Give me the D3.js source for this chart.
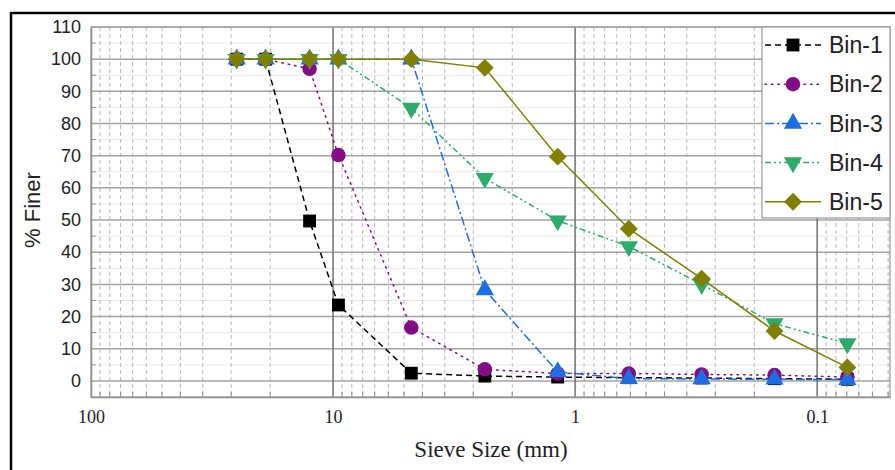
<!DOCTYPE html>
<html>
<head>
<meta charset="utf-8">
<script src="https://cdn.jsdelivr.net/npm/d3@7"></script>
<style>
  html, body { margin: 0; padding: 0; background: #fff; }
  svg { display: block; }
</style>
</head>
<body>
<svg id="chart" width="895" height="470"></svg>
<script>
// Sieve sizes (mm) and percent finer for each bin
const sieveSizes = [25, 19, 12.5, 9.5, 4.75, 2.36, 1.18, 0.6, 0.3, 0.15, 0.075];
const bin1 = [100, 100, 49.7, 23.6, 2.4, 1.5, 1.2, 1.0, 0.9, 0.7, 0.5];
const bin2 = [100, 100, 97.0, 70.2, 16.6, 3.6, 2.3, 2.3, 2.0, 1.8, 1.2];
const bin3 = [100, 100, 100, 100, 100, 28.3, 2.8, 0.7, 0.6, 0.5, 0.4];
const bin4 = [100, 100, 100, 100, 84.8, 63.0, 49.8, 41.8, 30.0, 17.8, 11.6];
const bin5 = [100, 100, 100, 100, 100, 97.3, 69.7, 47.3, 31.8, 15.5, 4.2];
const seriesNames = ["Bin-1", "Bin-2", "Bin-3", "Bin-4", "Bin-5"];
const xTickValues = [100, 10, 1, 0.1];
const yTickValues = [0, 10, 20, 30, 40, 50, 60, 70, 80, 90, 100, 110];

const seriesStyle = [
  { color: "#000000", dash: "6,4", symbol: d3.symbolSquare, size: 165, rot: 0 },
  { color: "#850a85", dash: "1.5,5", symbol: d3.symbolCircle, size: 165, rot: 0 },
  { color: "#1c6fe3", dash: "9,3,2,3", symbol: d3.symbolTriangle, size: 145, rot: 0 },
  { color: "#2eab6b", dash: "6,3,2,3,2,3", symbol: d3.symbolTriangle, size: 145, rot: 180 },
  { color: "#808000", dash: null, symbol: d3.symbolSquare, size: 160, rot: 45 }
];
const seriesValues = [bin1, bin2, bin3, bin4, bin5];

const svg = d3.select("#chart");
const margin = { left: 91, top: 27, right: 890, bottom: 397 };

const x = d3.scaleLog().domain([100, 0.05]).range([margin.left, margin.right]);
const y = d3.scaleLinear().domain([-5, 110]).range([margin.bottom, margin.top]);

// outer frame
svg.append("path")
  .attr("d", "M11,470 L11,13 L895,13")
  .attr("fill", "none").attr("stroke", "#000").attr("stroke-width", 2.5);

const plot = svg.append("g");

// minor horizontal grid (every 5)
const yMinor = d3.range(-5, 111, 5).filter(v => v % 10 !== 0 && v > -5);
plot.selectAll(".ygm").data(yMinor).join("line")
  .attr("x1", margin.left).attr("x2", margin.right)
  .attr("y1", d => y(d)).attr("y2", d => y(d))
  .attr("stroke", "#e9e9e9").attr("stroke-width", 1);

// minor vertical grid: ten evenly spaced lines inside each decade
const xMinor = [];
[0.01, 0.1, 1, 10].forEach(base => {
  for (let k = 1; k <= 10; k++) {
    const v = base * (1 + 9 * k / 11);
    if (v < 100 && v > 0.05) xMinor.push(v);
  }
});
plot.selectAll(".xgm").data(xMinor).join("line")
  .attr("x1", d => x(d)).attr("x2", d => x(d))
  .attr("y1", margin.top).attr("y2", margin.bottom)
  .attr("stroke", "#b8b8b8").attr("stroke-width", 1)
  .attr("stroke-dasharray", "4,3");

// major horizontal grid
plot.selectAll(".ygM").data(yTickValues).join("line")
  .attr("x1", margin.left).attr("x2", margin.right)
  .attr("y1", d => y(d)).attr("y2", d => y(d))
  .attr("stroke", "#a3a3a3").attr("stroke-width", 1.5);

// major vertical grid
plot.selectAll(".xgM").data(xTickValues.slice(1)).join("line")
  .attr("x1", d => x(d)).attr("x2", d => x(d))
  .attr("y1", margin.top).attr("y2", margin.bottom)
  .attr("stroke", "#707070").attr("stroke-width", 1.5);

// plot frame
plot.append("rect")
  .attr("x", margin.left).attr("y", margin.top)
  .attr("width", margin.right - margin.left).attr("height", margin.bottom - margin.top)
  .attr("fill", "none").attr("stroke", "#a0a0a0").attr("stroke-width", 1.3);

// inward minor ticks on bottom and left axes
plot.selectAll(".xmt").data(xMinor).join("line")
  .attr("x1", d => x(d)).attr("x2", d => x(d))
  .attr("y1", margin.bottom).attr("y2", margin.bottom - 5)
  .attr("stroke", "#909090").attr("stroke-width", 1);
plot.selectAll(".ymt").data(yMinor).join("line")
  .attr("x1", margin.left).attr("x2", margin.left + 5)
  .attr("y1", d => y(d)).attr("y2", d => y(d))
  .attr("stroke", "#909090").attr("stroke-width", 1);

// axes
const yAxis = svg.append("g")
  .attr("transform", `translate(${margin.left},0)`)
  .call(d3.axisLeft(y).tickValues(yTickValues).tickSize(0).tickPadding(10));
yAxis.select(".domain").attr("stroke", "#909090").attr("stroke-width", 1.5);
yAxis.selectAll("text")
  .attr("font-family", "Liberation Sans, Arial, sans-serif")
  .attr("font-size", 18).attr("fill", "#222");

const xAxis = svg.append("g")
  .attr("transform", `translate(0,${margin.bottom})`)
  .call(d3.axisBottom(x).tickValues(xTickValues).tickFormat(d => String(d)).tickSize(0).tickPadding(13));
xAxis.select(".domain").attr("stroke", "#909090").attr("stroke-width", 1.5);
xAxis.selectAll("text")
  .attr("font-family", "Liberation Serif, Times New Roman, serif")
  .attr("font-size", 18).attr("fill", "#222");

// axis titles
svg.append("text")
  .attr("x", 491).attr("y", 457)
  .attr("text-anchor", "middle")
  .attr("font-family", "Liberation Serif, Times New Roman, serif")
  .attr("font-size", 23).attr("fill", "#222")
  .text("Sieve Size (mm)");
svg.append("text")
  .attr("transform", "translate(40,210) rotate(-90)")
  .attr("text-anchor", "middle")
  .attr("font-family", "Liberation Sans, Arial, sans-serif")
  .attr("font-size", 22).attr("fill", "#222")
  .text("% Finer");

// series lines and markers
const line = d3.line().x(d => x(d[0])).y(d => y(d[1]));
seriesValues.forEach((vals, i) => {
  const st = seriesStyle[i];
  const pts = sieveSizes.map((s, j) => [s, vals[j]]);
  const g = svg.append("g");
  g.append("path")
    .attr("d", line(pts))
    .attr("fill", "none").attr("stroke", st.color).attr("stroke-width", 1.5)
    .attr("stroke-linecap", i === 1 ? "round" : "butt")
    .attr("stroke-dasharray", st.dash);
  g.selectAll("path.m").data(pts).join("path")
    .attr("class", "m")
    .attr("d", d3.symbol().type(st.symbol).size(st.size))
    .attr("transform", d => `translate(${x(d[0])},${y(d[1])}) rotate(${st.rot})`)
    .attr("fill", st.color);
});

// legend
const legend = svg.append("g");
legend.append("rect")
  .attr("x", 762).attr("y", margin.top)
  .attr("width", margin.right - 762).attr("height", 191)
  .attr("fill", "#fff").attr("stroke", "#a0a0a0").attr("stroke-width", 1.3);
seriesNames.forEach((name, i) => {
  const st = seriesStyle[i];
  const cy = 45 + i * 39.2;
  legend.append("line")
    .attr("x1", 765).attr("x2", 821).attr("y1", cy).attr("y2", cy)
    .attr("stroke", st.color).attr("stroke-width", 1.5)
    .attr("stroke-linecap", i === 1 ? "round" : "butt")
    .attr("stroke-dasharray", st.dash);
  legend.append("path")
    .attr("d", d3.symbol().type(st.symbol).size(st.size))
    .attr("transform", `translate(793,${cy}) rotate(${st.rot})`)
    .attr("fill", st.color);
  legend.append("text")
    .attr("x", 829).attr("y", cy).attr("dy", "0.36em")
    .attr("font-family", "Liberation Sans, Arial, sans-serif")
    .attr("font-size", 23).attr("fill", "#222")
    .text(name);
});
</script>
</body>
</html>
